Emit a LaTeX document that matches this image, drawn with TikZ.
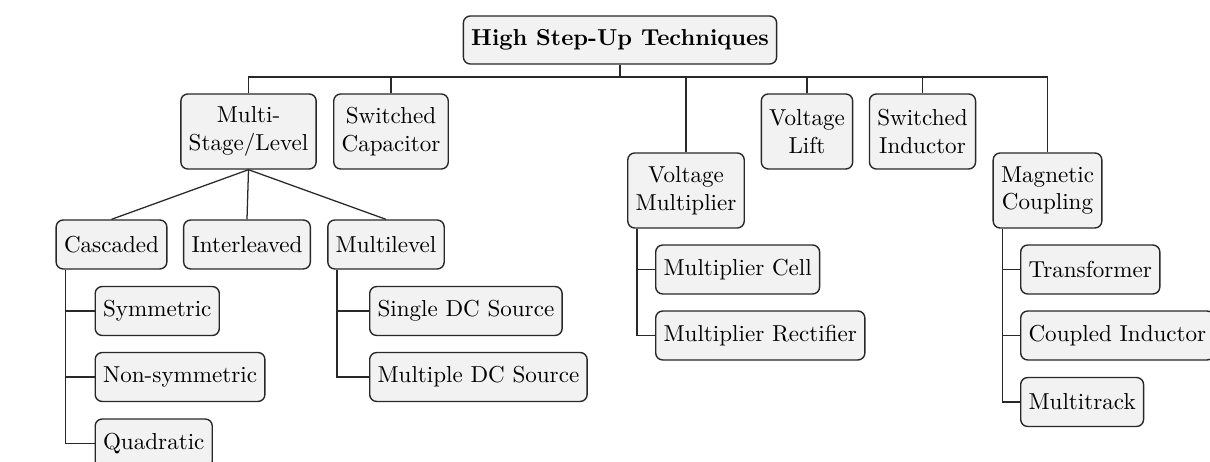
\documentclass[tikz,border=0pt]{standalone}
\usepackage{tikz}
\usetikzlibrary{positioning}
\definecolor{boxfill}{RGB}{242,242,242}
\definecolor{boxline}{RGB}{40,40,40}

\begin{document}
\begin{tikzpicture}[x=0.01523cm, y=-0.01523cm,
  techbox/.style={draw=boxline, fill=boxfill, rounded corners=3pt, line width=0.6pt, inner xsep=3.4pt, minimum height=21.2pt, align=center},
  tallbox/.style={techbox, minimum height=32.5pt},
  link/.style={draw=boxline, line width=0.55pt}]
  \useasboundingbox (0,0) rectangle (1210,462);
  % Root
  \node[techbox, font=\bfseries, minimum height=20.8pt] (root) at (620,40) {High Step-Up Techniques};
  % Main techniques
  \node[tallbox] (ms) at (248.5,131.5) {Multi-\\Stage/Level};
  \node[tallbox] (sc) at (391,131.5) {Switched\\Capacitor};
  \node[tallbox] (vm) at (686,190.5) {Voltage\\Multiplier};
  \node[tallbox] (vl) at (807,131.5) {Voltage\\Lift};
  \node[tallbox] (si) at (922.5,131.5) {Switched\\Inductor};
  \node[tallbox] (mc) at (1047.5,190.5) {Magnetic\\Coupling};
  % Multi-stage/level branches
  \node[techbox] (cas) at (111.5,244.5) {Cascaded};
  \node[techbox] (intl) at (247,244.5) {Interleaved};
  \node[techbox] (mlvl) at (386,244.5) {Multilevel};
  % Leaves
  \node[techbox, anchor=west] (sym) at (94.5,311) {Symmetric};
  \node[techbox, anchor=west] (nsym) at (94.5,377) {Non-symmetric};
  \node[techbox, anchor=west] (quad) at (94.5,443.5) {Quadratic};
  \node[techbox, anchor=west] (sdc) at (369,311) {Single DC Source};
  \node[techbox, anchor=west] (mdc) at (369,377) {Multiple DC Source};
  \node[techbox, anchor=west] (mcell) at (655,269.5) {Multiplier Cell};
  \node[techbox, anchor=west] (mrect) at (655,335.5) {Multiplier Rectifier};
  \node[techbox, anchor=west] (trf) at (1020,269.5) {Transformer};
  \node[techbox, anchor=west] (cind) at (1020,335.5) {Coupled Inductor};
  \node[techbox, anchor=west] (mtrk) at (1020,402) {Multitrack};
  % Connectors
  \coordinate (bus) at (620,77);
  \draw[link] (root.south) -- (bus);
  \draw[link] (ms.north) |- (bus) -| (mc.north);
  \foreach \n in {sc,vm,vl,si} \draw[link] (\n.north) -- (\n.north |- bus);
  \foreach \n in {cas,intl,mlvl} \draw[link] (ms.south) -- (\n.north);
  % Trunks
  \coordinate (castrunk) at ([xshift=4.3pt]cas.south west);
  \coordinate (mlvltrunk) at ([xshift=4.3pt]mlvl.south west);
  \coordinate (vmtrunk) at ([xshift=4.3pt]vm.south west);
  \coordinate (mctrunk) at ([xshift=4.3pt]mc.south west);
  \draw[link] (castrunk) |- (quad.west);
  \foreach \n in {sym,nsym} \draw[link] (\n.west) -- (\n.west -| castrunk);
  \draw[link] (mlvltrunk) |- (mdc.west);
  \draw[link] (sdc.west) -- (sdc.west -| mlvltrunk);
  \draw[link] (vmtrunk) |- (mrect.west);
  \draw[link] (mcell.west) -- (mcell.west -| vmtrunk);
  \draw[link] (mctrunk) |- (mtrk.west);
  \foreach \n in {trf,cind} \draw[link] (\n.west) -- (\n.west -| mctrunk);
\end{tikzpicture}
\end{document}
